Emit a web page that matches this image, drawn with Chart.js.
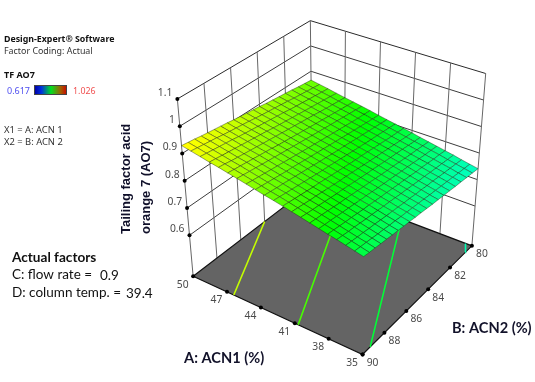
<!DOCTYPE html>
<html>
<head>
<meta charset="utf-8">
<title>TF AO7 response surface</title>
<script src="https://cdn.jsdelivr.net/npm/chart.js@4"></script>
<style>
  html, body { margin: 0; padding: 0; background: #fff; }
  canvas { display: block; }
</style>
</head>
<body>
<canvas id="chart" width="535" height="382"></canvas>
<script>
// Axis ticks
const acn1Ticks = [50, 47, 44, 41, 38, 35];
const acn2Ticks = [90, 88, 86, 84, 82, 80];
const tfTicks = [1.1, 1, 0.9, 0.8, 0.7, 0.6];
const tfFloor = 0.45;
const tfTop = 1.1;
const tfMin = 0.617;
const tfMax = 1.026;

// Surface nodes: one row per ACN2 (90 to 80, step 0.5), one column per ACN1 (50 to 35, step 0.75)
const tfSurface = [
  [.929,.922,.915,.908,.902,.895,.888,.881,.874,.867,.861,.854,.847,.840,.833,.826,.819,.813,.806,.799,.792],
  [.926,.919,.912,.905,.899,.892,.885,.878,.871,.864,.858,.851,.844,.837,.830,.823,.817,.810,.803,.796,.789],
  [.923,.916,.909,.902,.895,.889,.882,.875,.868,.861,.855,.848,.841,.834,.828,.821,.814,.807,.800,.794,.787],
  [.919,.913,.906,.899,.892,.886,.879,.872,.865,.859,.852,.845,.838,.832,.825,.818,.811,.805,.798,.791,.784],
  [.916,.910,.903,.896,.889,.883,.876,.869,.862,.856,.849,.842,.836,.829,.822,.815,.809,.802,.795,.788,.782],
  [.913,.906,.900,.893,.886,.880,.873,.866,.859,.853,.846,.839,.833,.826,.819,.813,.806,.799,.793,.786,.779],
  [.910,.903,.896,.890,.883,.877,.870,.863,.857,.850,.843,.837,.830,.823,.817,.810,.803,.797,.790,.783,.777],
  [.907,.900,.893,.887,.880,.874,.867,.860,.854,.847,.840,.834,.827,.821,.814,.807,.801,.794,.787,.781,.774],
  [.903,.897,.890,.884,.877,.870,.864,.857,.851,.844,.837,.831,.824,.818,.811,.805,.798,.791,.785,.778,.772],
  [.900,.894,.887,.881,.874,.867,.861,.854,.848,.841,.835,.828,.822,.815,.808,.802,.795,.789,.782,.776,.769],
  [.897,.890,.884,.877,.871,.864,.858,.851,.845,.838,.832,.825,.819,.812,.806,.799,.793,.786,.779,.773,.767],
  [.894,.887,.881,.874,.868,.861,.855,.848,.842,.835,.829,.822,.816,.809,.803,.796,.790,.783,.777,.771,.764],
  [.891,.884,.878,.871,.865,.858,.852,.845,.839,.832,.826,.819,.813,.807,.800,.794,.787,.781,.774,.768,.761],
  [.887,.881,.875,.868,.862,.855,.849,.842,.836,.830,.823,.817,.810,.804,.797,.791,.785,.778,.772,.765,.759],
  [.884,.878,.871,.865,.859,.852,.846,.839,.833,.827,.820,.814,.807,.801,.795,.788,.782,.775,.769,.763,.756],
  [.881,.875,.868,.862,.856,.849,.843,.836,.830,.824,.817,.811,.805,.798,.792,.786,.779,.773,.767,.760,.754],
  [.878,.871,.865,.859,.852,.846,.840,.833,.827,.821,.814,.808,.802,.796,.789,.783,.777,.770,.764,.758,.751],
  [.875,.868,.862,.856,.849,.843,.837,.830,.824,.818,.812,.805,.799,.793,.786,.780,.774,.767,.761,.755,.749],
  [.871,.865,.859,.853,.846,.840,.834,.827,.821,.815,.809,.802,.796,.790,.784,.777,.771,.765,.759,.752,.746],
  [.868,.862,.856,.850,.843,.837,.831,.825,.818,.812,.806,.800,.793,.787,.781,.775,.769,.762,.756,.750,.744],
  [.865,.859,.853,.846,.840,.834,.828,.822,.815,.809,.803,.797,.791,.784,.778,.772,.766,.760,.753,.747,.741]
];
const surfaceAcn1 = tfSurface[0].map((_, i) => 50 - i * 0.75);
const surfaceAcn2 = tfSurface.map((_, j) => 90 - j * 0.5);

// Contours on the floor: level, then ACN1 and ACN2 at each end
const contourLevels = [0.9, 0.85, 0.8, 0.75];
const contourAcn1 = [[46.4, 50], [40.7, 47], [35, 41.6], [35, 35.6]];
const contourAcn2 = [[90, 84], [90, 80], [89.3, 80], [80.6, 80]];

// Screen position of the eight box corners, used as the 3D view
const view = {
  leftLow: [192, 278], leftHigh: [176, 97],     // ACN1 50, ACN2 90
  frontLow: [364, 358], frontHigh: [366, 168],  // ACN1 35, ACN2 90
  backLow: [313, 185], backHigh: [311, 17],     // ACN1 50, ACN2 80
  rightLow: [475, 247], rightHigh: [489, 71]    // ACN1 35, ACN2 80
};

function mix(p, q, t) {
  return [p[0] + (q[0] - p[0]) * t, p[1] + (q[1] - p[1]) * t];
}

// Turn (ACN1, ACN2, TF) into a point on the chart's x/y scales
function project(a, b, z) {
  const u = (50 - a) / 15;
  const v = (90 - b) / 10;
  const w = (z - tfFloor) / (tfTop - tfFloor);
  const low = mix(mix(view.leftLow, view.frontLow, u), mix(view.backLow, view.rightLow, u), v);
  const high = mix(mix(view.leftHigh, view.frontHigh, u), mix(view.backHigh, view.rightHigh, u), v);
  const p = mix(low, high, w);
  return { x: p[0], y: p[1] };
}

function tfColor(z) {
  const p = Math.min(1, Math.max(0, (z - tfMin) / (tfMax - tfMin)));
  let c;
  if (p < 0.25) c = [0, 4 * p * 255, 255];
  else if (p < 0.5) c = [0, 255, 255 * (1 - 4 * (p - 0.25))];
  else if (p < 0.75) c = [4 * (p - 0.5) * 255, 255, 0];
  else c = [255, 255 * (1 - 4 * (p - 0.75)), 0];
  return `rgb(${Math.round(c[0])},${Math.round(c[1])},${Math.round(c[2])})`;
}

function line(points, color, width) {
  return { data: points, showLine: true, fill: false, borderColor: color, borderWidth: width, pointRadius: 0 };
}

function polygon(points, fillColor, edgeColor, width) {
  return {
    data: points.concat([points[0]]), showLine: true, fill: 'shape',
    backgroundColor: fillColor, borderColor: edgeColor, borderWidth: width, pointRadius: 0
  };
}

function dots(points) {
  return { data: points, showLine: false, pointRadius: 2, pointBackgroundColor: '#000', pointBorderWidth: 0 };
}

// Listed in paint order, back to front
const layers = [];

// Walls
tfTicks.forEach((z) => {
  layers.push(line([project(50, 90, z), project(50, 80, z), project(35, 80, z)], z === 1.1 ? '#2a2a2a' : '#3c3c3c', 1));
});
acn2Ticks.forEach((b) => {
  layers.push(line([project(50, b, tfFloor), project(50, b, tfTop)], '#666', 1));
});
acn1Ticks.slice(1).forEach((a) => {
  layers.push(line([project(a, 80, tfFloor), project(a, 80, tfTop)], '#666', 1));
});

// Floor and contours
layers.push(polygon([project(50, 90, tfFloor), project(35, 90, tfFloor), project(35, 80, tfFloor), project(50, 80, tfFloor)], '#646464', '#111', 1.2));
contourLevels.forEach((level, k) => {
  const c = tfColor(level);
  layers.push(line([
    project(contourAcn1[k][0], contourAcn2[k][0], tfFloor),
    project(contourAcn1[k][1], contourAcn2[k][1], tfFloor)
  ], c, 1.6));
});

// Surface cells, far corner first
for (let j = tfSurface.length - 2; j >= 0; j--) {
  for (let i = 0; i < tfSurface[j].length - 1; i++) {
    const a0 = surfaceAcn1[i], a1 = surfaceAcn1[i + 1];
    const b0 = surfaceAcn2[j], b1 = surfaceAcn2[j + 1];
    const mean = (tfSurface[j][i] + tfSurface[j][i + 1] + tfSurface[j + 1][i] + tfSurface[j + 1][i + 1]) / 4;
    layers.push(polygon([
      project(a0, b0, tfSurface[j][i]),
      project(a1, b0, tfSurface[j][i + 1]),
      project(a1, b1, tfSurface[j + 1][i + 1]),
      project(a0, b1, tfSurface[j + 1][i])
    ], tfColor(mean), 'rgba(30,40,20,0.6)', 0.7));
  }
}

// Tick dots
layers.push(dots(tfTicks.map((z) => project(50, 90, z))));
layers.push(dots(acn1Ticks.map((a) => project(a, 90, tfFloor))));
layers.push(dots(acn2Ticks.map((b) => project(35, b, tfFloor))));

const sans = '"Noto Sans", sans-serif';
const calibriLike = 'Lato, sans-serif';

function put(ctx, text, x, y, font, color, align) {
  ctx.font = font;
  ctx.fillStyle = color;
  ctx.textAlign = align || 'left';
  ctx.textBaseline = 'middle';
  ctx.fillText(text, x, y);
}

// All the text and the colour key
const annotations = {
  id: 'annotations',
  afterDraw(chart) {
    const ctx = chart.ctx;
    const sx = chart.scales.x;
    const sy = chart.scales.y;
    const px = (p) => sx.getPixelForValue(p.x);
    const py = (p) => sy.getPixelForValue(p.y);
    ctx.save();

    put(ctx, 'Design-Expert® Software', 4, 39, `bold 8.8px ${sans}`, '#111');
    put(ctx, 'Factor Coding: Actual', 4, 51, `8.9px ${sans}`, '#333');
    put(ctx, 'TF AO7', 4, 75, `bold 9px ${sans}`, '#111');
    put(ctx, String(tfMin), 7, 91, `9px ${sans}`, '#5050f0');
    put(ctx, String(tfMax), 73, 91, `8.8px ${sans}`, '#f05050');
    put(ctx, 'X1 = A: ACN 1', 4, 130, `9.4px ${sans}`, '#333');
    put(ctx, 'X2 = B: ACN 2', 4, 142, `9.4px ${sans}`, '#333');

    const key = ctx.createLinearGradient(35, 0, 67, 0);
    key.addColorStop(0, '#0000a8');
    key.addColorStop(0.2, '#0030e0');
    key.addColorStop(0.5, '#00e020');
    key.addColorStop(0.8, '#a06000');
    key.addColorStop(1, '#d00000');
    ctx.fillStyle = key;
    ctx.fillRect(35, 85, 32, 9);
    ctx.strokeStyle = '#444';
    ctx.lineWidth = 1;
    ctx.strokeRect(34.5, 85.5, 32, 9);

    tfTicks.forEach((z) => {
      const p = project(50, 90, z);
      put(ctx, String(z), px(p) - 5, py(p) - 6, `10.3px ${sans}`, '#4a4a4a', 'right');
    });
    acn1Ticks.forEach((a) => {
      const p = project(a, 90, tfFloor);
      put(ctx, String(a), px(p) - 10.5, py(p) + 8.5, `10.3px ${sans}`, '#4a4a4a', 'center');
    });
    acn2Ticks.forEach((b) => {
      const p = project(35, b, tfFloor);
      put(ctx, String(b), px(p) + 10, py(p) + 8.5, `10.3px ${sans}`, '#4a4a4a', 'center');
    });

    put(ctx, 'A: ACN1 (%)', 184, 358, `bold 14.6px ${calibriLike}`, '#12122a');
    put(ctx, 'B: ACN2 (%)', 452, 328, `bold 14.6px ${calibriLike}`, '#12122a');
    put(ctx, 'Actual factors', 12, 258, `bold 13.6px ${calibriLike}`, '#111');
    put(ctx, 'C: flow rate =', 12, 275, `13.5px ${calibriLike}`, '#111');
    put(ctx, '0.9', 100, 276, `13.5px ${calibriLike}`, '#111');
    put(ctx, 'D: column temp. =', 12, 293, `13.5px ${calibriLike}`, '#111');
    put(ctx, '39.4', 126, 294, `13.5px ${calibriLike}`, '#111');

    ctx.translate(126, 234);
    ctx.rotate(-Math.PI / 2);
    put(ctx, 'Tailing factor acid', 0, 0, 'bold 13px "Liberation Sans", sans-serif', '#10102a');
    put(ctx, 'orange 7 (AO7)', 0, 20, 'bold 13px "Liberation Sans", sans-serif', '#10102a');
    ctx.restore();
  }
};

new Chart(document.getElementById('chart'), {
  type: 'scatter',
  data: { datasets: layers.slice().reverse() },
  plugins: [annotations],
  options: {
    responsive: false,
    animation: false,
    layout: { padding: 0 },
    events: [],
    plugins: { legend: { display: false }, tooltip: { enabled: false } },
    scales: {
      x: { type: 'linear', display: false, min: 0, max: 535 },
      y: { type: 'linear', display: false, min: 0, max: 382, reverse: true }
    }
  }
});
</script>
</body>
</html>
